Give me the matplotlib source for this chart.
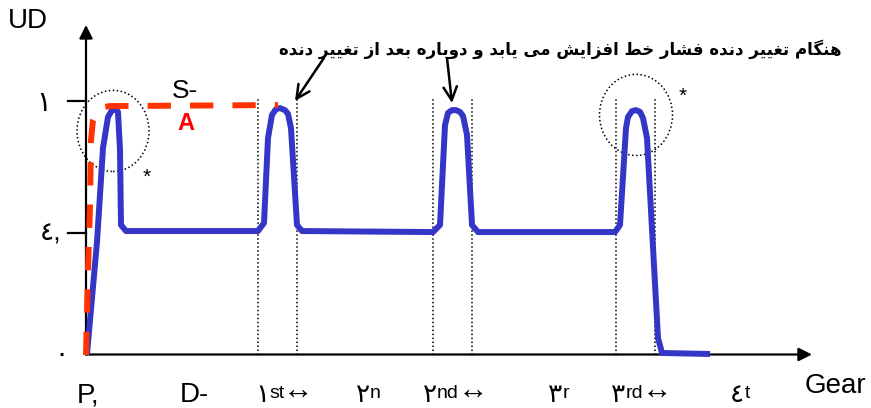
import matplotlib
matplotlib.use('Agg')
import matplotlib.pyplot as plt
from matplotlib.patches import Ellipse

# blue curve: line pressure over the gear changes
blue_x = [1, 11, 17, 22, 26, 29, 32, 34, 35, 40, 172, 178, 182, 186, 190, 194, 199, 202, 205,
          211, 216, 347, 354, 359, 362, 366, 370, 374, 377, 381, 386, 392, 529, 534, 540, 542,
          546, 550, 554, 557, 561, 572, 576, 624]
blue_y = [0.002, 0.444, 0.815, 0.937, 0.964, 0.968, 0.957, 0.807, 0.511, 0.487, 0.487, 0.519,
          0.854, 0.945, 0.968, 0.972, 0.964, 0.949, 0.893, 0.511, 0.487, 0.483, 0.511, 0.905,
          0.953, 0.964, 0.964, 0.957, 0.941, 0.866, 0.511, 0.483, 0.483, 0.511, 0.893, 0.937,
          0.960, 0.964, 0.957, 0.933, 0.854, 0.065, 0.006, 0.002]

# red dashed curve (S-A)
red_x = [0, 2, 4, 5, 7, 11, 17, 24, 192]
red_y = [-0.002, 0.333, 0.590, 0.846, 0.925, 0.960, 0.976, 0.980, 0.984]

# dotted gear change markers
shift_x = [172, 211, 347, 386, 530, 569]
shift_top = 1.016

# y ticks
ytick_pos = [1.0, 0.479]

# gear labels
gear_pos = [-11, 92, 169, 270, 337, 462, 525, 644]
gear_base = ['P,', 'D-', '\u0661', '\u0662', '\u0662', '\u0663', '\u0663', '\u0664']
gear_sup = ['', '', 'st', 'n', 'nd', 'r', 'rd', 't']
gear_arrow = [False, False, True, False, True, False, True, False]
label_y = -0.189

note = 'هنگام تغییر دنده فشار خط افزایش می یابد و دوباره بعد از تغییر دنده'

# simple arabic shaping (matplotlib has no bidi / joining)
FORMS = {
    'ا': ('\uFE8D', '\uFE8E', None, None),
    'ب': ('\uFE8F', '\uFE90', '\uFE91', '\uFE92'),
    'ت': ('\uFE95', '\uFE96', '\uFE97', '\uFE98'),
    'خ': ('\uFEA5', '\uFEA6', '\uFEA7', '\uFEA8'),
    'د': ('\uFEA9', '\uFEAA', None, None),
    'ر': ('\uFEAD', '\uFEAE', None, None),
    'ز': ('\uFEAF', '\uFEB0', None, None),
    'ش': ('\uFEB5', '\uFEB6', '\uFEB7', '\uFEB8'),
    'ط': ('\uFEC1', '\uFEC2', '\uFEC3', '\uFEC4'),
    'ع': ('\uFEC9', '\uFECA', '\uFECB', '\uFECC'),
    'غ': ('\uFECD', '\uFECE', '\uFECF', '\uFED0'),
    'ف': ('\uFED1', '\uFED2', '\uFED3', '\uFED4'),
    'م': ('\uFEE1', '\uFEE2', '\uFEE3', '\uFEE4'),
    'ن': ('\uFEE5', '\uFEE6', '\uFEE7', '\uFEE8'),
    'ه': ('\uFEE9', '\uFEEA', '\uFEEB', '\uFEEC'),
    'و': ('\uFEED', '\uFEEE', None, None),
    'ی': ('\uFBFC', '\uFBFD', '\uFBFE', '\uFBFF'),
    'گ': ('\uFB92', '\uFB93', '\uFB94', '\uFB95'),
}


def shape(s):
    out = []
    for i, c in enumerate(s):
        if c not in FORMS:
            out.append(c)
            continue
        prev = s[i - 1] if i > 0 else ''
        nxt = s[i + 1] if i + 1 < len(s) else ''
        join_prev = prev in FORMS and FORMS[prev][2] is not None
        join_next = nxt in FORMS and FORMS[c][2] is not None
        iso, fin, ini, med = FORMS[c]
        if join_prev and join_next:
            out.append(med)
        elif join_prev:
            out.append(fin)
        elif join_next:
            out.append(ini)
        else:
            out.append(iso)
    return ''.join(out)[::-1]


fams = ['Liberation Sans', 'DejaVu Sans']
blue = '#3535c8'
red = '#ff3300'

fig = plt.figure(figsize=(8.71, 4.08), dpi=100)
ax = fig.add_axes([0, 0, 1, 1])
ax.set_xlim(-86, 785)
ax.set_ylim(-(408 - 354.5) / 253.5, 354.5 / 253.5)
ax.axis('off')

# dotted markers and circles
for x in shift_x:
    ax.plot([x, x], [0, shift_top], color='black', lw=1.1, linestyle=(0, (1, 1.6)))
ax.add_patch(Ellipse((27, 0.882), 72, 0.32, fill=False, ec='black', lw=1.1, linestyle=(0, (1, 1.6))))
ax.add_patch(Ellipse((550, 0.945), 73, 0.32, fill=False, ec='black', lw=1.1, linestyle=(0, (1, 1.6))))

# curves
ax.plot(blue_x, blue_y, color=blue, lw=4.3, solid_joinstyle='round', solid_capstyle='butt', zorder=4)
ax.plot(red_x, red_y, color=red, lw=4.3, dashes=(3.9, 3.2), dash_capstyle='butt', zorder=5)

# axes with arrows
ax.annotate('', xy=(0, 1.30), xytext=(0, 0),
            arrowprops=dict(arrowstyle='-|>', color='black', lw=1.6, mutation_scale=20, shrinkA=0, shrinkB=0))
ax.annotate('', xy=(726, 0), xytext=(0, 0),
            arrowprops=dict(arrowstyle='-|>', color='black', lw=1.6, mutation_scale=20, shrinkA=0, shrinkB=0))
for y in ytick_pos:
    ax.plot([-18, 0], [y, y], color='black', lw=1.6)

ax.text(-42, 0.99, '\u0661', family=fams, fontsize=20, ha='center', va='center')
ax.text(-35, 0.479, '\u0664,', family=fams, fontsize=19, ha='center', va='center')
ax.text(-25, 0.0, '\u0660', family=fams, fontsize=19, ha='center', va='center')

ax.text(-78, 1.288, 'UD', family=fams, fontsize=20, ha='left', va='baseline')
ax.text(719, -0.152, 'Gear', family=fams, fontsize=20, ha='left', va='baseline')
ax.text(86, 1.012, 'S-', family=fams, fontsize=19, ha='left', va='baseline')
ax.text(91, 0.886, 'A', family=fams, fontsize=17, weight='bold', color='red', ha='left', va='baseline')
ax.text(61, 0.70, '*', family=fams, fontsize=15, ha='center', va='center')
ax.text(597, 1.02, '*', family=fams, fontsize=15, ha='center', va='center')

# gear labels along the x axis
for pos, base, sup, arr in zip(gear_pos, gear_base, gear_sup, gear_arrow):
    size = 20 if base in ('P,', 'D-') else 19
    px = pos + 2 if size == 20 else pos
    t = ax.text(px, label_y, base, family=fams, fontsize=size, ha='left', va='baseline')
    if sup:
        s = ax.annotate(sup, xy=(1, 1), xycoords=t, xytext=(0, -1), textcoords='offset points',
                        family=fams, fontsize=14, ha='left', va='top')
        if arr:
            ax.annotate('\u2194', xy=(1, label_y), xycoords=(s, 'data'), xytext=(-1, 1.5),
                        textcoords='offset points', family=fams, fontsize=22,
                        ha='left', va='baseline')

# persian note with its two arrows
ax.text(474, 1.205, shape(note), family=['DejaVu Sans'], fontsize=12, weight='bold',
        ha='center', va='center')
ax.annotate('', xy=(209, 1.0), xytext=(238, 1.17),
            arrowprops=dict(arrowstyle='->', color='black', lw=1.8, mutation_scale=24, shrinkA=0, shrinkB=0))
ax.annotate('', xy=(366, 0.992), xytext=(361, 1.17),
            arrowprops=dict(arrowstyle='->', color='black', lw=1.8, mutation_scale=24, shrinkA=0, shrinkB=0))

plt.savefig('out.png', dpi=100)
